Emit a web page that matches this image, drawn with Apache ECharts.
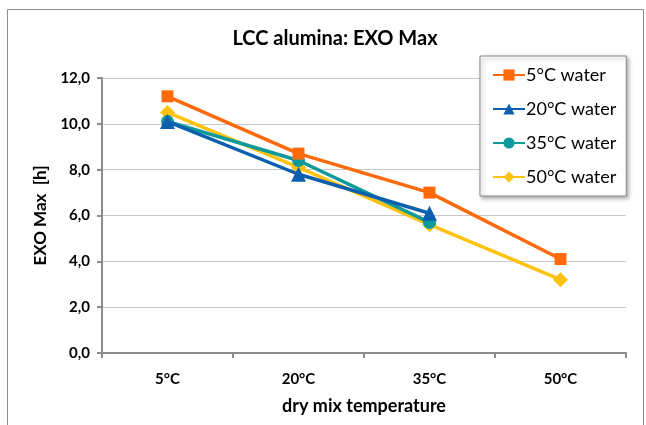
<!DOCTYPE html>
<html><head><meta charset="utf-8">
<script src="https://cdn.jsdelivr.net/npm/echarts@6/dist/echarts.min.js"></script>
<style>html,body{margin:0;padding:0;background:#fff}#c{width:646px;height:425px}</style>
</head><body><div id="c"></div>
<script>
const categories = ['5°C', '20°C', '35°C', '50°C'];
const seriesNames = ['5°C water', '20°C water', '35°C water', '50°C water'];
const water5 = [11.2, 8.7, 7.0, 4.1];
const water20 = [10.1, 7.8, 6.1, null];
const water35 = [10.1, 8.4, 5.7, null];
const water50 = [10.5, 8.1, 5.6, 3.2];
const yTicks = [0, 2, 4, 6, 8, 10, 12];

const colors = ['#FF6A0D', '#0A5FAE', '#0E9A9A', '#FFC20E'];
const symbols = ['rect', 'triangle', 'circle', 'diamond'];
const symSizes = [12, 15, 13, 15];
const dataSets = [water5, water20, water35, water50];
const font = 'Lato, "Open Sans", sans-serif';

const chart = echarts.init(document.getElementById('c'));
chart.setOption({
  animation: false,
  backgroundColor: '#fff',
  graphic: [{
    type: 'rect', shape: { x: 7.5, y: 9.5, width: 636, height: 430 },
    style: { fill: 'none', stroke: '#8c8c8c', lineWidth: 1 }, silent: true, z: -1
  }],
  title: {
    text: 'LCC alumina: EXO Max', left: 330, top: 24, textAlign: 'center',
    textStyle: { fontFamily: font, fontSize: 20, fontWeight: 'bold', color: '#000' }
  },
  legend: {
    orient: 'vertical', left: 480, top: 56, width: 151,
    padding: [10, 10, 10, 12], itemGap: 16, itemWidth: 32, itemHeight: 14,
    backgroundColor: '#fff', borderColor: '#8c8c8c', borderWidth: 1,
    shadowColor: 'rgba(0,0,0,0.35)', shadowBlur: 4, shadowOffsetX: 2, shadowOffsetY: 2,
    textStyle: { fontFamily: font, fontSize: 18, color: '#000', padding: [0, 14, 0, -4] },
    data: seriesNames
  },
  grid: { left: 102, right: 20, top: 78, bottom: 72 },
  xAxis: {
    type: 'category', data: categories, boundaryGap: true,
    name: 'dry mix temperature', nameLocation: 'middle', nameGap: 44,
    nameTextStyle: { fontFamily: font, fontSize: 18, fontWeight: 'bold', color: '#000' },
    axisLine: { lineStyle: { color: '#8c8c8c', width: 2 } },
    axisTick: { show: true, alignWithLabel: false, length: 5, lineStyle: { color: '#8c8c8c', width: 2 } },
    axisLabel: { fontFamily: font, fontSize: 15, fontWeight: 'bold', color: '#000', margin: 19 }
  },
  yAxis: {
    type: 'value', min: 0, max: 12, interval: 2,
    name: 'EXO Max  [h]', nameLocation: 'middle', nameGap: 46,
    nameTextStyle: { fontFamily: font, fontSize: 17, fontWeight: 'bold', color: '#000' },
    axisLine: { show: true, lineStyle: { color: '#8c8c8c', width: 2 } },
    axisTick: { show: true, length: 5, lineStyle: { color: '#8c8c8c', width: 2 } },
    axisLabel: {
      fontFamily: font, fontSize: 15, fontWeight: 'bold', color: '#000', margin: 12,
      formatter: v => yTicks.includes(v) ? v.toFixed(1).replace('.', ',') : ''
    },
    splitLine: { lineStyle: { color: '#c8c8c8', width: 1 } }
  },
  series: seriesNames.map((n, i) => ({
    name: n, type: 'line', data: dataSets[i], connectNulls: false,
    symbol: symbols[i], symbolSize: symSizes[i], showAllSymbol: true,
    lineStyle: { color: colors[i], width: 3.5 },
    itemStyle: { color: colors[i] },
    z: 10 - i
  }))
});
</script></body></html>
